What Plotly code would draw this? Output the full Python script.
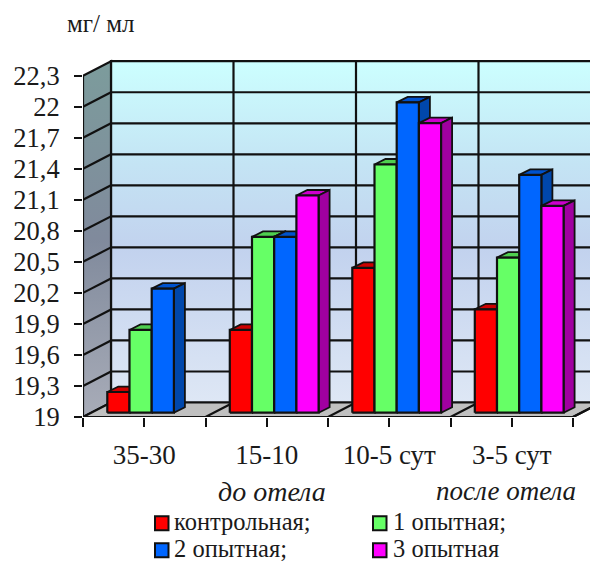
import plotly.graph_objects as go

# Chart data
periods = ["35-30", "15-10", "10-5 сут", "3-5 сут"]
series_names = ["контрольная;", "1 опытная;", "2 опытная;", "3 опытная"]
control = [19.2, 19.8, 20.4, 20.0]
group_1 = [19.8, 20.7, 21.4, 20.5]
group_2 = [20.2, 20.7, 22.0, 21.3]
group_3 = [None, 21.1, 21.8, 21.0]
y_ticks = [19, 19.3, 19.6, 19.9, 20.2, 20.5, 20.8, 21.1, 21.4, 21.7, 22, 22.3]

# Face colours per series: front, top, side
front_colors = ["#FF0000", "#66FF66", "#0066FF", "#FF00FF"]
top_colors = ["#CC0000", "#4FCF4F", "#0052CC", "#CC00CC"]
side_colors = ["#A00000", "#3A9F3A", "#0047AB", "#A000A0"]

# Pixel geometry of the plot frame
WIDTH, HEIGHT = 590, 562
LEFT, BASE_PX, TOP_PX = 83, 417.5, 55
PX_PER_CAT = 122.5
PX_PER_UNIT = 31.07 / 0.3

# Pseudo-3D offsets, in axis units
WALL_DX = 28 / PX_PER_CAT
WALL_DY = 14.5 / PX_PER_UNIT
BAR_X0 = 24.3 / PX_PER_CAT
BAR_W = 22.2 / PX_PER_CAT
BAR_LIFT = 4.3 / PX_PER_UNIT
BAR_DX = 11 / PX_PER_CAT
BAR_DY = 5.5 / PX_PER_UNIT

Y0 = y_ticks[0]
Y1 = y_ticks[-1]
N = len(periods)
x_range = [0, (WIDTH - LEFT) / PX_PER_CAT]
y_range = [Y0, Y0 + (BASE_PX - TOP_PX) / PX_PER_UNIT]

SERIF = "Liberation Serif"
INK = "#111111"
TEXT = "#1A1A1A"

fig = go.Figure()


def poly(xs, ys, fill=None, gradient=None, line_w=2.2):
    """Closed filled polygon in axis coordinates."""
    kw = {"fillgradient": gradient} if gradient else {"fillcolor": fill}
    fig.add_trace(go.Scatter(
        x=xs + xs[:1], y=ys + ys[:1], mode="lines", fill="toself",
        line=dict(color=INK, width=line_w), hoverinfo="skip",
        showlegend=False, cliponaxis=False, **kw))


def segments(pairs, width=2.2):
    """Unfilled line segments sharing one trace."""
    xs, ys = [], []
    for (xa, ya), (xb, yb) in pairs:
        xs += [xa, xb, None]
        ys += [ya, yb, None]
    fig.add_trace(go.Scatter(
        x=xs, y=ys, mode="lines", line=dict(color=INK, width=width),
        hoverinfo="skip", showlegend=False, cliponaxis=False))


# Back wall
poly([WALL_DX, N + WALL_DX, N + WALL_DX, WALL_DX],
     [Y0 + WALL_DY, Y0 + WALL_DY, Y1 + WALL_DY, Y1 + WALL_DY],
     gradient=dict(type="vertical", colorscale=[
         [0, "#DEE7F5"], [0.45, "#C2D2EE"], [0.7, "#C4E4F4"], [1, "#CCFFFF"]]))

# Left side wall
poly([0, WALL_DX, WALL_DX, 0],
     [Y0, Y0 + WALL_DY, Y1 + WALL_DY, Y1],
     gradient=dict(type="vertical", colorscale=[
         [0, "#A8ACB8"], [0.5, "#808A9C"], [1, "#7C9C9C"]]))

# Floor
poly([0, N, N + WALL_DX, WALL_DX],
     [Y0, Y0, Y0 + WALL_DY, Y0 + WALL_DY], fill="#C0C0C0")

# Gridlines: wall rungs, back-wall horizontals, back-wall and floor verticals
segments([((0, v), (WALL_DX, v + WALL_DY)) for v in y_ticks[1:-1]]
         + [((WALL_DX, v + WALL_DY), (N + WALL_DX, v + WALL_DY)) for v in y_ticks[1:-1]]
         + [((i + WALL_DX, Y0 + WALL_DY), (i + WALL_DX, Y1 + WALL_DY)) for i in range(1, N + 1)]
         + [((i, Y0), (i + WALL_DX, Y0 + WALL_DY)) for i in range(1, N + 1)])

# Bars, drawn left to right so each front covers its neighbour's side face
all_series = [control, group_1, group_2, group_3]
for cat in range(N):
    for s, values in enumerate(all_series):
        value = values[cat]
        if value is None:
            continue
        xa = cat + BAR_X0 + s * BAR_W
        xb = xa + BAR_W
        lo = Y0 + BAR_LIFT
        hi = value + BAR_LIFT
        poly([xa, xb, xb + BAR_DX, xa + BAR_DX],
             [hi, hi, hi + BAR_DY, hi + BAR_DY], fill=top_colors[s], line_w=1.8)
        poly([xb, xb + BAR_DX, xb + BAR_DX, xb],
             [lo, lo + BAR_DY, hi + BAR_DY, hi], fill=side_colors[s], line_w=1.8)
        poly([xa, xb, xb, xa], [lo, lo, hi, hi], fill=front_colors[s], line_w=2.2)

x_tickvals = [i / 2 for i in range(2 * N + 1)]
x_ticktext = [periods[i // 2] if i % 2 else "" for i in range(2 * N + 1)]


def px_x(px):
    return (px - LEFT) / (WIDTH - LEFT)


def px_y(py):
    return (BASE_PX - py) / (BASE_PX - TOP_PX)


def label(text, px, py, size=22, italic=False, anchor="left"):
    fig.add_annotation(
        text=f"<i>{text}</i>" if italic else text,
        xref="paper", yref="paper", x=px_x(px), y=px_y(py),
        xanchor=anchor, yanchor="middle", showarrow=False, borderpad=0,
        font=dict(family=SERIF, size=size, color=TEXT))


# Unit and period captions
label("мг/ мл", 66, 23, size=25)
label("до отела", 217, 492, size=28, italic=True)
label("после отела", 435, 492, size=27, italic=True)

# Legend block
legend_cols = [(155, 173), (373, 392)]
legend_rows = [522.5, 549.5]
swatch_rows = [524, 551]
for i, name in enumerate(series_names):
    box_x, text_x = legend_cols[i % 2]
    row_y = legend_rows[i // 2]
    box_y = swatch_rows[i // 2]
    fig.add_shape(type="rect", xref="paper", yref="paper",
                  x0=px_x(box_x), x1=px_x(box_x + 13.5),
                  y0=px_y(box_y - 7), y1=px_y(box_y + 7),
                  fillcolor=front_colors[i], line=dict(color=INK, width=2))
    label(name, text_x, row_y, size=24.5)

fig.update_layout(
    width=WIDTH, height=HEIGHT, autosize=False,
    margin=dict(l=LEFT, r=0, t=TOP_PX, b=HEIGHT - BASE_PX, pad=0),
    paper_bgcolor="white", plot_bgcolor="white", showlegend=False,
    xaxis=dict(range=x_range, tickmode="array", tickvals=x_tickvals, ticktext=x_ticktext,
               showgrid=False, zeroline=False, showline=False,
               ticks="outside", ticklen=9, tickwidth=2, tickcolor=INK,
               ticklabelstandoff=5,
               tickfont=dict(family=SERIF, size=27, color=TEXT)),
    yaxis=dict(range=y_range, tickmode="array", tickvals=y_ticks,
               ticktext=[f"{v:g}".replace(".", ",") for v in y_ticks],
               showgrid=False, zeroline=False, showline=False,
               ticks="outside", ticklen=8, tickwidth=2, tickcolor=INK,
               ticklabelstandoff=9,
               tickfont=dict(family=SERIF, size=26.5, color=TEXT)),
)

fig.write_html("out.html")
